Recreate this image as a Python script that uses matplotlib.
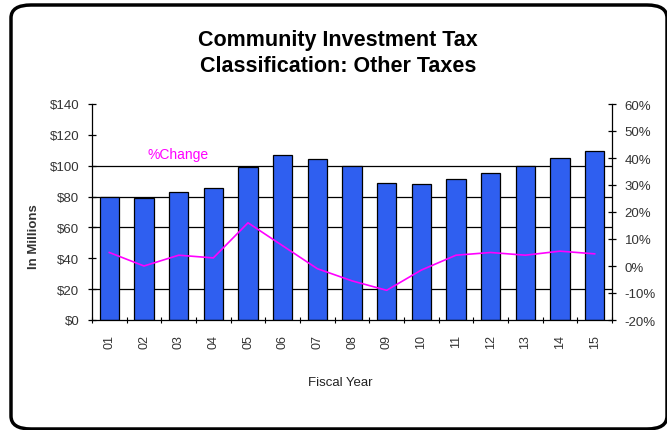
import matplotlib.pyplot as plt
from matplotlib.patches import FancyBboxPatch
import matplotlib.ticker as tick
import numpy as np

plt.rcParams['font.family'] = ['Liberation Sans', 'DejaVu Sans']

years = ['01', '02', '03', '04', '05', '06', '07', '08', '09',
         '10', '11', '12', '13', '14', '15']
revenue = [79.5, 79, 83, 85.5, 99, 107, 104.5, 99.5, 89, 88, 91.5, 95.5, 99.5, 105, 109.5]
pct_change = [5, 0, 4, 3, 16, 7.5, -1, -5.5, -9, -1.5, 4, 5, 4, 5.5, 4.5]

grid_vals = [20, 60, 80, 100]

fig = plt.figure(figsize=(6.67, 4.31), dpi=100)

# rounded frame round the whole chart
frame = FancyBboxPatch((11 / 667, 1 / 431), 656 / 667, 424 / 431,
                       boxstyle='round,pad=0,rounding_size=0.03',
                       transform=fig.transFigure, fill=False,
                       edgecolor='black', linewidth=2.5, clip_on=False)
fig.patches.append(frame)

ax = fig.add_axes([92 / 667, 1 - 321 / 431, 520 / 667, 216 / 431])
x = np.arange(len(years))

for g in grid_vals:
    ax.axhline(g, color='black', linewidth=0.9, zorder=0)

ax.bar(x, revenue, width=0.55, color='#2f5ff0', edgecolor='black',
       linewidth=0.9, zorder=2)

ax.set_xlim(-0.5, len(years) - 0.5)
ax.set_ylim(0, 140)
ax.set_yticks(range(0, 141, 20))
ax.yaxis.set_major_formatter(tick.FuncFormatter(lambda v, p: '${:d}'.format(int(v))))
ax.set_xticks(x)
ax.set_xticklabels(years, rotation=90)
ax.set_xticks(np.arange(-0.5, len(years)), minor=True)
ax.tick_params(axis='x', which='major', length=0, pad=10, labelsize=9, labelcolor='#333333')
ax.tick_params(axis='x', which='minor', length=4, direction='inout', width=0.8)
ax.tick_params(axis='y', length=6, direction='inout', width=0.9, labelsize=9.5,
               labelcolor='#333333', pad=6)
ax.spines['top'].set_visible(False)
ax.spines['right'].set_visible(False)
ax.spines['left'].set_linewidth(0.9)
ax.spines['bottom'].set_linewidth(0.9)
ax.set_xlabel('Fiscal Year', fontsize=9.5, color='#222222')
ax.xaxis.set_label_coords(0.477, -0.26)
ax.set_ylabel('In Millions', fontsize=9.5, fontweight='bold', color='#333333')
ax.yaxis.set_label_coords(-0.10, 0.39)

ax2 = ax.twinx()
ax2.plot(x, pct_change, color='#ff00ff', linewidth=1.2, zorder=3)
ax2.set_ylim(-20, 60)
ax2.set_yticks(range(-20, 61, 10))
ax2.yaxis.set_major_formatter(tick.FuncFormatter(lambda v, p: '{:d}%'.format(int(v))))
ax2.tick_params(axis='y', length=6, direction='inout', width=0.9, labelsize=9.5,
                labelcolor='#333333', pad=6)
ax2.spines['top'].set_visible(False)
ax2.spines['left'].set_visible(False)
ax2.spines['bottom'].set_visible(False)
ax2.spines['right'].set_linewidth(0.9)

ax2.text(0.107, 0.77, '%Change', transform=ax2.transAxes, color='#ff00ff',
         fontsize=10, ha='left', va='center')

fig.text(338 / 667, 1 - 53.5 / 431, 'Community Investment Tax\nClassification: Other Taxes',
         ha='center', va='center', fontsize=15.5, fontweight='bold',
         linespacing=1.3)

fig.savefig('out.png', dpi=100)
